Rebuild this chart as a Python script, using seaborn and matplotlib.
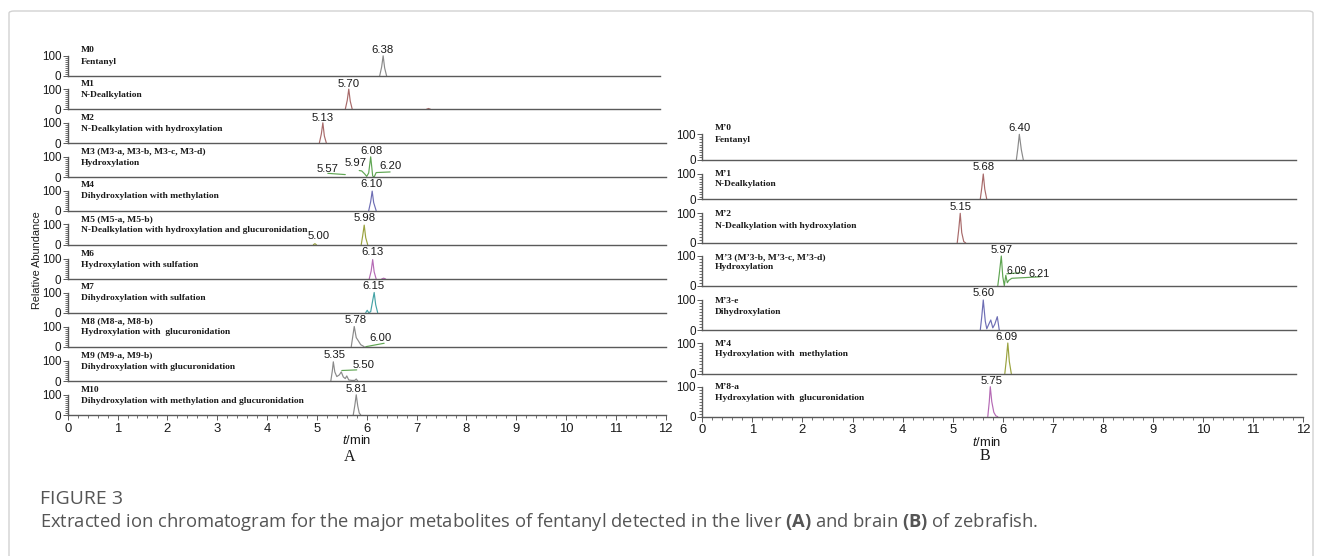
import matplotlib
matplotlib.use("Agg")
import matplotlib.pyplot as plt
from matplotlib.patches import FancyBboxPatch
from matplotlib.ticker import MultipleLocator, FixedLocator
import seaborn as sns

# ---------------------------------------------------------------- data
# Panel A (liver)
A_NAMES = ["M0", "M1", "M2", "M3 (M3-a, M3-b, M3-c, M3-d)", "M4", "M5 (M5-a, M5-b)",
           "M6", "M7", "M8 (M8-a, M8-b)", "M9 (M9-a, M9-b)", "M10"]
A_DESCS = ["Fentanyl", "N-Dealkylation", "N-Dealkylation with hydroxylation", "Hydroxylation",
           "Dihydroxylation with methylation",
           "N-Dealkylation with hydroxylation and glucuronidation",
           "Hydroxylation with sulfation", "Dihydroxylation with sulfation",
           "Hydroxylation with  glucuronidation", "Dihydroxylation with glucuronidation",
           "Dihydroxylation with methylation and glucuronidation"]
A_PEAK_LABELS = [["6.38"], ["5.70"], ["5.13"], ["5.57", "5.97", "6.08", "6.20"], ["6.10"],
                 ["5.98", "5.00"], ["6.13"], ["6.15"], ["5.78", "6.00"], ["5.35", "5.50"], ["5.81"]]

M0_T = [6.26, 6.30, 6.33, 6.36, 6.40];  M0_I = [0, 45, 100, 40, 0]
M1_T = [5.57, 5.61, 5.64, 5.67, 5.71];  M1_I = [0, 45, 100, 40, 0]
M1B_T = [7.20, 7.24, 7.28];             M1B_I = [0, 4, 0]
M2_T = [5.05, 5.09, 5.12, 5.15, 5.19];  M2_I = [0, 45, 100, 35, 0]
M3A_T = [5.22, 5.57];                   M3A_I = [18, 12]
M3B_T = [5.85, 5.90, 5.96, 6.00, 6.04, 6.08, 6.12, 6.15, 6.19, 6.47]
M3B_I = [32, 30, 15, 3, 20, 100, 5, 0, 22, 25]
M4_T = [6.04, 6.08, 6.11, 6.14, 6.19];  M4_I = [0, 45, 97, 40, 0]
M5_T = [5.89, 5.92, 5.95, 5.98, 6.02];  M5_I = [0, 45, 97, 35, 0]
M5B_T = [4.93, 4.96, 4.99];             M5B_I = [0, 5, 0]
M6_T = [6.05, 6.09, 6.12, 6.15, 6.19];  M6_I = [0, 40, 96, 35, 0]
M6B_T = [6.30, 6.34, 6.38];             M6B_I = [0, 4, 0]
M7_T = [5.98, 6.01, 6.04, 6.08, 6.12, 6.15, 6.18, 6.22]
M7_I = [0, 12, 0, 5, 60, 100, 40, 0]
M8_T = [5.69, 5.72, 5.75, 5.79, 5.83, 5.88, 5.95]
M8_I = [0, 50, 100, 45, 30, 10, 0]
M8B_T = [5.98, 6.35];                   M8B_I = [0, 17]
M9_T = [5.28, 5.31, 5.33, 5.36, 5.40, 5.45, 5.49, 5.53, 5.57, 5.60, 5.64, 5.70, 5.76, 5.79, 5.82]
M9_I = [0, 50, 95, 45, 22, 30, 45, 20, 12, 25, 5, 3, 3, 10, 0]
M9B_T = [5.50, 5.80];                   M9B_I = [52, 55]
M10_T = [5.73, 5.76, 5.79, 5.82, 5.85, 5.88]; M10_I = [0, 45, 100, 45, 10, 0]

# Panel B (brain)
B_NAMES = ["M\u20190", "M\u20191", "M\u20192", "M\u20193 (M\u20193-b, M\u20193-c, M\u20193-d)",
           "M\u20193-e", "M\u20194", "M\u20198-a"]
B_DESCS = ["Fentanyl", "N-Dealkylation", "N-Dealkylation with hydroxylation", "Hydroxylation",
           "Dihydroxylation", "Hydroxylation with  methylation",
           "Hydroxylation with  glucuronidation"]
B_PEAK_LABELS = [["6.40"], ["5.68"], ["5.15"], ["5.97", "6.09", "6.21"], ["5.60"], ["6.09"], ["5.75"]]

N0_T = [6.27, 6.30, 6.33, 6.37, 6.41];        N0_I = [0, 45, 100, 40, 0]
N1_T = [5.55, 5.58, 5.61, 5.64, 5.68];        N1_I = [0, 45, 100, 40, 0]
N2_T = [5.09, 5.12, 5.15, 5.18, 5.22, 5.26];  N2_I = [0, 45, 100, 35, 5, 0]
N3_T = [5.90, 5.93, 5.97, 6.00, 6.03, 6.06, 6.09, 6.12, 6.18, 6.75]
N3_I = [0, 40, 100, 30, 0, 35, 10, 18, 25, 30]
N3B_T = [6.08, 6.38];                         N3B_I = [40, 44]
N3E_T = [5.55, 5.58, 5.61, 5.65, 5.68, 5.72, 5.76, 5.80, 5.84, 5.89, 5.93]
N3E_I = [0, 45, 100, 30, 5, 20, 34, 8, 20, 45, 0]
N4_T = [6.04, 6.07, 6.10, 6.13, 6.17];        N4_I = [0, 45, 100, 40, 0]
N8_T = [5.70, 5.73, 5.75, 5.78, 5.82, 5.86, 5.90]
N8_I = [0, 50, 100, 50, 15, 3, 0]

X_TICKS = list(range(0, 13))

# ---------------------------------------------------------------- styles
GRAY, BROWN, GREEN = "#8a8a8a", "#a86a6a", "#5fa552"
BLUE, OLIVE, PURPLE, TEAL = "#6e6eb4", "#9aa23e", "#b56ab5", "#45a3a6"

A_SEGMENTS = [
    [(M0_T, M0_I, GRAY)],
    [(M1_T, M1_I, BROWN), (M1B_T, M1B_I, BROWN)],
    [(M2_T, M2_I, BROWN)],
    [(M3A_T, M3A_I, GREEN), (M3B_T, M3B_I, GREEN)],
    [(M4_T, M4_I, BLUE)],
    [(M5_T, M5_I, OLIVE), (M5B_T, M5B_I, OLIVE)],
    [(M6_T, M6_I, PURPLE), (M6B_T, M6B_I, PURPLE)],
    [(M7_T, M7_I, TEAL)],
    [(M8_T, M8_I, GRAY), (M8B_T, M8B_I, GREEN)],
    [(M9_T, M9_I, GRAY), (M9B_T, M9B_I, GREEN)],
    [(M10_T, M10_I, GRAY)],
]
B_SEGMENTS = [
    [(N0_T, N0_I, GRAY)],
    [(N1_T, N1_I, BROWN)],
    [(N2_T, N2_I, BROWN)],
    [(N3_T, N3_I, GREEN), (N3B_T, N3B_I, GREEN)],
    [(N3E_T, N3E_I, BLUE)],
    [(N4_T, N4_I, OLIVE)],
    [(N8_T, N8_I, PURPLE)],
]

# ---------------------------------------------------------------- layout (pixels)
W, H = 1322, 556
A_X0, A_X12 = 67.7, 665.7
A_BASE = [76, 109.3, 143, 177, 210.7, 244.7, 279, 312.7, 346.7, 381, 415]
A_TOP0 = 42.1
A_H100 = [20.2] * 11
A_LABEL_POS = [[(6.32, 131)], [(5.63, 127)], [(5.12, 126)],
               [(5.22, 39), (5.77, 68), (6.09, 128), (6.47, 53)],
               [(6.09, 131)], [(5.95, 132), (5.03, 44)], [(6.11, 134)], [(6.13, 131)],
               [(5.77, 131), (6.27, 41)], [(5.35, 131), (5.93, 78)], [(5.80, 131)]]
A_LABEL_SIZE = [[8.2], [8.2], [8.2], [8.2] * 4, [8.2], [8.2] * 2, [8.2], [8.2],
                [8.2] * 2, [8.2] * 2, [8.2]]
A_TITLE_OFF = [25.5] * 11
A_DESC_OFF = [14.3] * 11
A_SPINE_END = [11.88, 11.88] + [12] * 9

B_X0, B_X12 = 702.3, 1303.3
B_BASE = [160, 199.3, 243, 285.7, 330.3, 373.7, 416.7]
B_TOP0 = 121
B_H100 = [25.7, 25.3, 29.7, 29.7, 30.3, 30.7, 30]
B_LABEL_POS = [[(6.33, 126)], [(5.61, 126)], [(5.15, 122)],
               [(5.97, 120), (6.27, 50), (6.72, 40)],
               [(5.61, 122)], [(6.08, 120)], [(5.77, 120)]]
B_LABEL_SIZE = [[8.2], [8.2], [8.2], [8.2, 7.6, 7.9], [8.2], [8.2], [8.2]]
B_TITLE_OFF = [31.7, 25, 28.7, 29, 29.6, 29.7, 29.4]
B_DESC_OFF = [20, 15, 17.3, 18.4, 18.6, 19.7, 18.4]
B_SPINE_END = [11.85] * 6 + [12]

# ---------------------------------------------------------------- theme
sns.set_style("white")
plt.rcParams["font.family"] = ["Liberation Sans", "DejaVu Sans"]
plt.rcParams["mathtext.fontset"] = "custom"
plt.rcParams["mathtext.it"] = "Liberation Sans:italic"
plt.rcParams["mathtext.rm"] = "Open Sans"
plt.rcParams["mathtext.bf"] = "Open Sans:bold"

SPINE = "#5a5a5a"
TXT = "#1a1a1a"

fig = plt.figure(figsize=(W / 100, H / 100), dpi=100)

# outer frame
frame = FancyBboxPatch((9 / W, -0.05), (1313 - 9) / W, 1 - 11 / H + 0.05,
                       boxstyle="round,pad=0,rounding_size=0.004",
                       transform=fig.transFigure, fill=False,
                       edgecolor="#d2d2d2", linewidth=1.0)
fig.patches.append(frame)


def px_axes(left, right, top, bottom):
    return fig.add_axes([left / W, 1 - bottom / H, (right - left) / W, (bottom - top) / H])


def draw_panel(x0, x12, bases, top0, h100s, names, descs, segs, labels, label_pos,
               label_size, title_off, desc_off, spine_end, name_x):
    n = len(bases)
    for i in range(n):
        top = bases[i - 1] if i > 0 else top0
        height = bases[i] - top
        ymax = height / h100s[i] * 100
        ax = px_axes(x0, x12, top, bases[i])
        ax.set_facecolor("none")
        for t, y, c in segs[i]:
            sns.lineplot(x=t, y=y, ax=ax, color=c, linewidth=0.85, sort=False,
                         estimator=None, clip_on=False)
        ax.set_xlim(0, 12)
        ax.set_ylim(0, ymax)
        ax.set_xlabel("")
        ax.set_ylabel("")
        for s in ("top", "right"):
            ax.spines[s].set_visible(False)
        for s in ("left", "bottom"):
            ax.spines[s].set_color(SPINE)
            ax.spines[s].set_linewidth(1.0)
        ax.spines["left"].set_bounds(0, 100)
        ax.spines["bottom"].set_bounds(0, spine_end[i])
        ax.set_yticks([0, 100])
        ax.set_yticklabels(["0", "100"])
        ax.yaxis.set_minor_locator(FixedLocator(list(range(10, 100, 10))))
        ax.tick_params(axis="y", which="major", length=3.6, width=0.7, color=SPINE,
                       labelsize=8.4, pad=1, labelcolor=TXT, left=True)
        ax.tick_params(axis="y", which="minor", length=2.2, width=0.6, color=SPINE, left=True)
        if i == n - 1:
            ax.set_xticks(X_TICKS)
            ax.set_xticklabels([str(v) for v in X_TICKS])
            ax.xaxis.set_minor_locator(MultipleLocator(0.2))
            ax.tick_params(axis="x", which="major", length=3.6, width=0.7, color=SPINE,
                           labelsize=9.4, pad=2, labelcolor=TXT, bottom=True)
            ax.tick_params(axis="x", which="minor", length=2.4, width=0.6, color=SPINE,
                           bottom=True)
        else:
            ax.tick_params(axis="x", which="both", bottom=False, labelbottom=False)
        # track name / description
        ax.annotate(names[i], xy=(name_x, 0), xytext=(0, title_off[i]),
                    textcoords="offset pixels", ha="left", va="center",
                    family="Liberation Serif", fontweight="bold", fontsize=6.8, color=TXT)
        ax.annotate(descs[i], xy=(name_x, 0), xytext=(0, desc_off[i]),
                    textcoords="offset pixels", ha="left", va="center",
                    family="Liberation Serif", fontweight="bold", fontsize=6.8, color=TXT)
        for lab, (lx, ly), fs in zip(labels[i], label_pos[i], label_size[i]):
            ax.text(lx, ly, lab, ha="center", va="center", fontsize=fs,
                    family="Liberation Sans", color=TXT)


draw_panel(A_X0, A_X12, A_BASE, A_TOP0, A_H100, A_NAMES, A_DESCS, A_SEGMENTS,
           A_PEAK_LABELS, A_LABEL_POS, A_LABEL_SIZE, A_TITLE_OFF, A_DESC_OFF,
           A_SPINE_END, 0.27)
draw_panel(B_X0, B_X12, B_BASE, B_TOP0, B_H100, B_NAMES, B_DESCS, B_SEGMENTS,
           B_PEAK_LABELS, B_LABEL_POS, B_LABEL_SIZE, B_TITLE_OFF, B_DESC_OFF,
           B_SPINE_END, 0.25)


def ftext(x, y, s, **kw):
    fig.text(x / W, 1 - y / H, s, **kw)


ftext(37, 260, "Relative Abundance", rotation=90, ha="center", va="center",
      fontsize=7.8, color=TXT)
ftext(357, 440, r"$\mathit{t}$/min", ha="center", va="center", fontsize=9.4, color=TXT)
ftext(350, 457, "A", ha="center", va="center", fontsize=11.5,
      family="Liberation Serif", color=TXT)
ftext(986.7, 442, r"$\mathit{t}$/min", ha="center", va="center", fontsize=9.4, color=TXT)
ftext(985, 456, "B", ha="center", va="center", fontsize=11.5,
      family="Liberation Serif", color=TXT)

ftext(40, 499, "FIGURE 3", ha="left", va="center", fontsize=14,
      family="Open Sans", color="#555555")
ftext(40, 522, r"Extracted ion chromatogram for the major metabolites of fentanyl detected "
      r"in the liver $\mathbf{(A)}$ and brain $\mathbf{(B)}$ of zebrafish.",
      ha="left", va="center", fontsize=13.2, family="Open Sans", color="#555555")

fig.savefig("out.png", dpi=100)
